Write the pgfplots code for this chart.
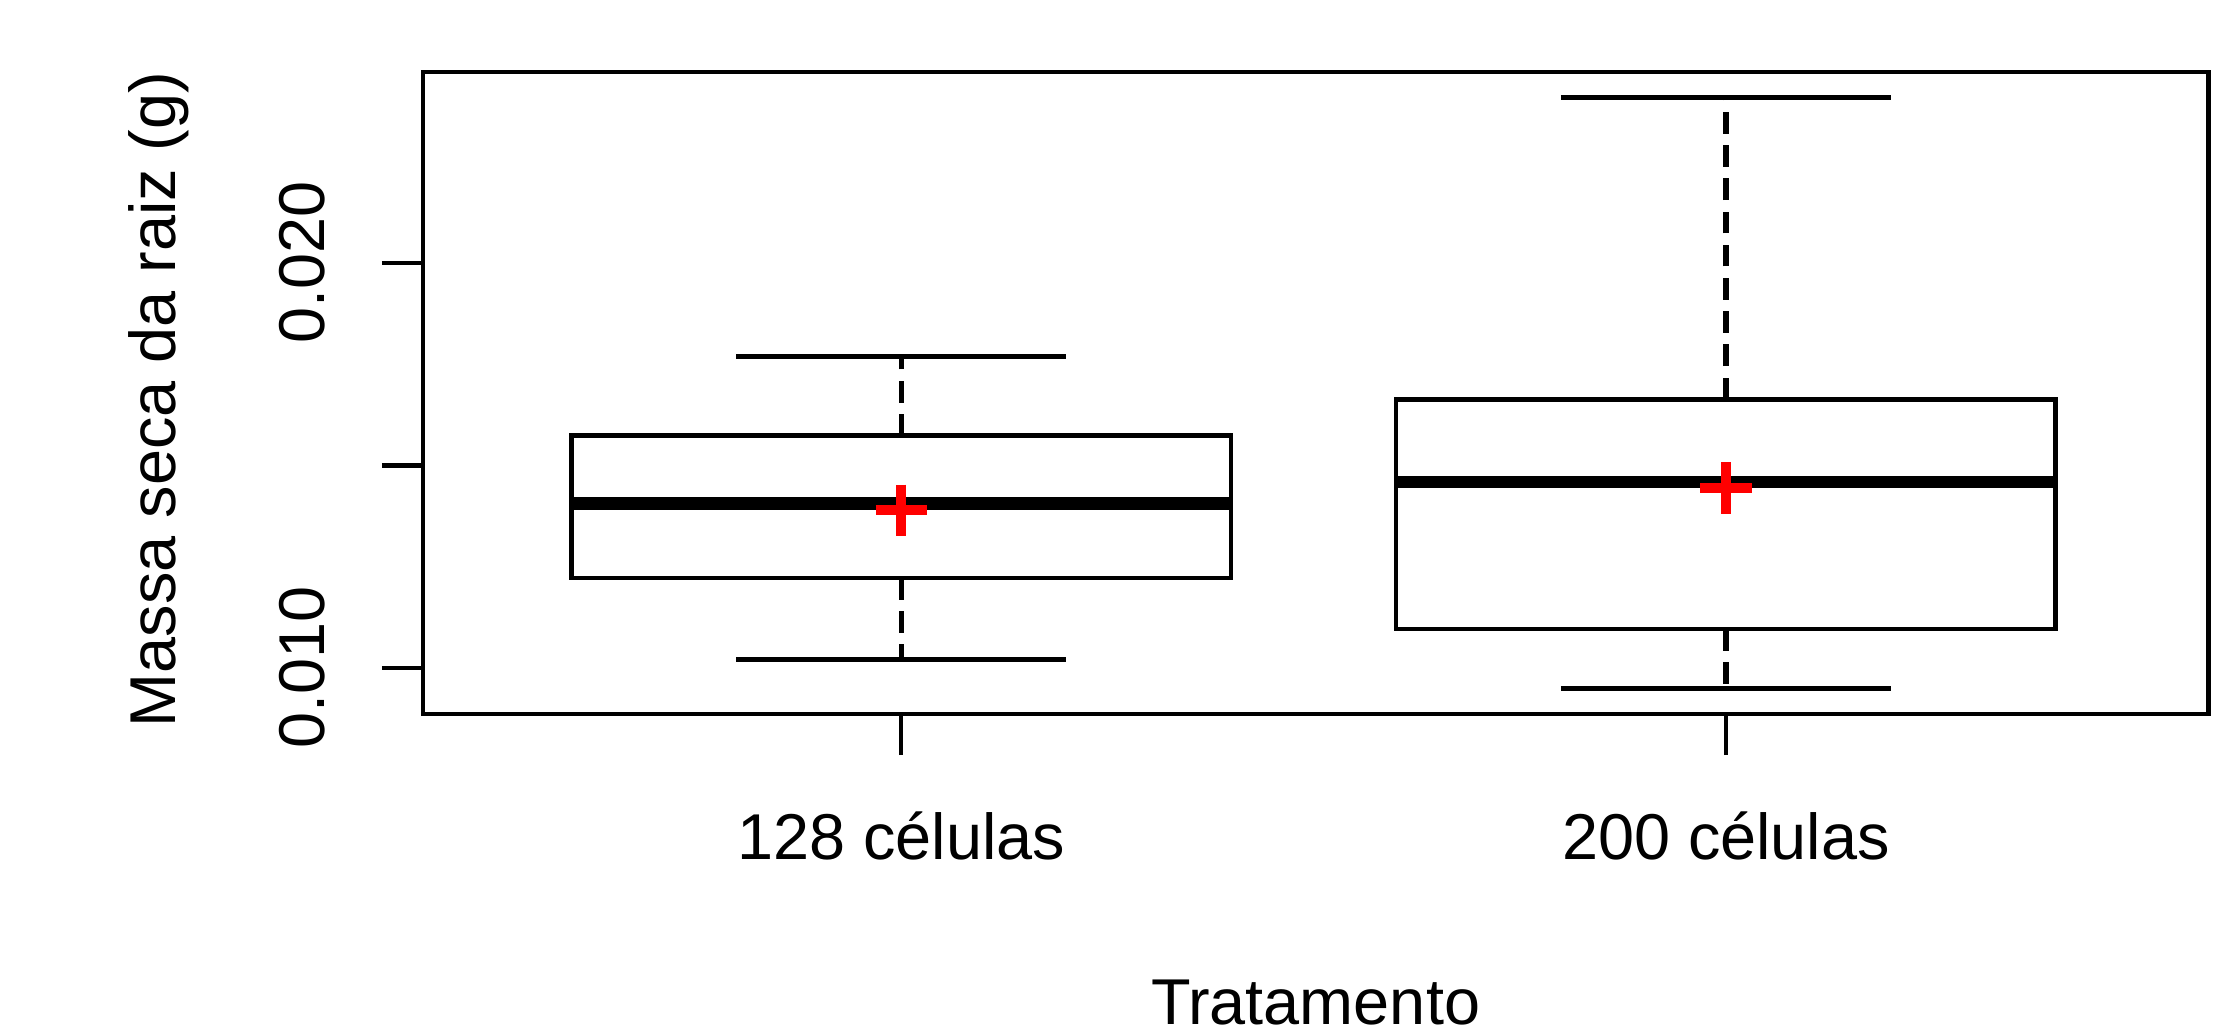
\documentclass[border=0pt]{standalone}
\usepackage{pgfplots}
\pgfplotsset{compat=1.18}
\usepackage{fontspec}
\setmainfont{Liberation Sans}
\begin{document}
\fontsize{16.2bp}{19bp}\selectfont
\begin{tikzpicture}
\path[use as bounding box] (-105.7bp,-80bp) rectangle (452.3bp,178.5bp);
\begin{axis}[
  scale only axis, width=446.4bp, height=160.5bp,
  xmin=0.42, xmax=2.585, ymin=0.00886, ymax=0.02471,
  axis line style={line width=1.1bp},
  xtick={1,2}, xticklabels={128 células,200 células},
  ytick={0.010,0.015,0.020}, yticklabels={0.010,,0.020},
  scaled y ticks=false,
  tick align=outside, major tick length=10.25bp,
  tick style={line width=1.1bp, black},
  xtick pos=bottom, ytick pos=left,
  tick label style={font=\fontsize{16.2bp}{19bp}\selectfont},
  label style={font=\fontsize{16.2bp}{19bp}\selectfont},
  yticklabel style={rotate=90, anchor=south, inner sep=0pt},
  xticklabel style={anchor=north, inner sep=0pt},
  yticklabel shift=14bp, xticklabel shift=14bp,
  xlabel={Tratamento}, ylabel={Massa seca da raiz (g)},
  xlabel style={at={(axis description cs:0.5,-0.449)}, anchor=center},
  ylabel style={at={(axis description cs:-0.148,0.49)}, anchor=center},
  clip=false,
]
% group 1: 128 celulas
\addplot[black, line width=1.3bp, dash pattern=on 5.4bp off 2.9bp] coordinates {(1,0.01573) (1,0.01768)};
\addplot[black, line width=1.3bp, dash pattern=on 5.4bp off 2.9bp] coordinates {(1,0.01222) (1,0.01021)};
\addplot[black, line width=1.2bp] coordinates {(0.8,0.01768) (1.2,0.01768)};
\addplot[black, line width=1.2bp] coordinates {(0.8,0.01021) (1.2,0.01021)};
\addplot[black, line width=1.2bp, fill=white] coordinates {(0.6,0.01222) (1.4,0.01222) (1.4,0.01573) (0.6,0.01573)} -- cycle;
\addplot[black, line width=3.2bp] coordinates {(0.6,0.01406) (1.4,0.01406)};
% group 2: 200 celulas
\addplot[black, line width=1.3bp, dash pattern=on 5.4bp off 2.9bp] coordinates {(2,0.01663) (2,0.02408)};
\addplot[black, line width=1.3bp, dash pattern=on 5.4bp off 2.9bp] coordinates {(2,0.01096) (2,0.00948)};
\addplot[black, line width=1.2bp] coordinates {(1.8,0.02408) (2.2,0.02408)};
\addplot[black, line width=1.2bp] coordinates {(1.8,0.00948) (2.2,0.00948)};
\addplot[black, line width=1.2bp, fill=white] coordinates {(1.6,0.01096) (2.4,0.01096) (2.4,0.01663) (1.6,0.01663)} -- cycle;
\addplot[black, line width=3.2bp] coordinates {(1.6,0.01459) (2.4,0.01459)};
% means
\addplot[only marks, mark=+, mark size=6.4bp, red, mark options={line width=2.4bp}] coordinates {(1,0.01389) (2,0.01444)};
\end{axis}
\end{tikzpicture}
\end{document}
